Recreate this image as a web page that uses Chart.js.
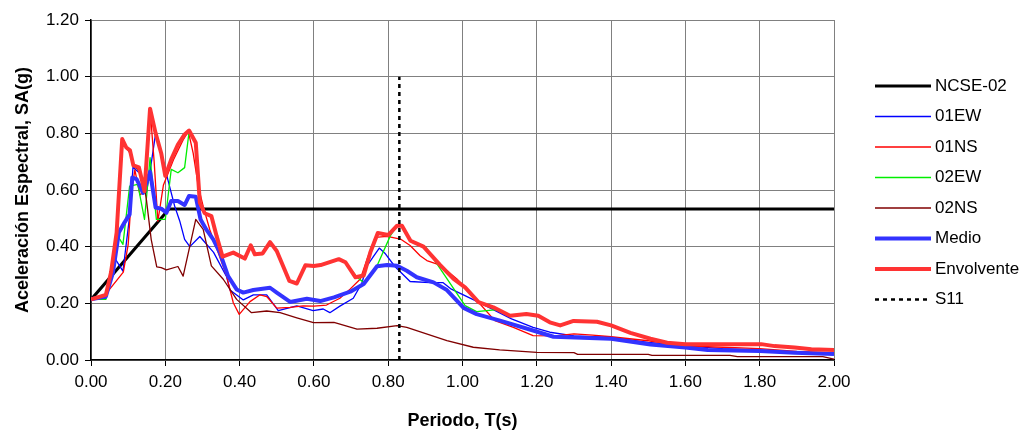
<!DOCTYPE html>
<html>
<head>
<meta charset="utf-8">
<script src="https://cdn.jsdelivr.net/npm/chart.js@4.4.0/dist/chart.umd.min.js"></script>
<style>
  html, body { margin: 0; padding: 0; background: #fff; }
  #wrap { width: 1024px; height: 431px; }
</style>
</head>
<body>
<div id="wrap"><canvas id="chart" width="1024" height="431"></canvas></div>
<script>
// Periodo T(s), Aceleracion SA(g) pairs
const ncse02 = [[0, 0.213], [0.21, 0.533], [2.0, 0.533]];

const ew01 = [[0, 0.214], [0.04, 0.217], [0.066, 0.355], [0.086, 0.314], [0.104, 0.508], [0.113, 0.68],
  [0.135, 0.655], [0.149, 0.59], [0.159, 0.667], [0.174, 0.80], [0.189, 0.73], [0.207, 0.636],
  [0.225, 0.544], [0.239, 0.49], [0.252, 0.426], [0.266, 0.40], [0.293, 0.436], [0.33, 0.38],
  [0.365, 0.294], [0.374, 0.247], [0.41, 0.212], [0.437, 0.23], [0.473, 0.23], [0.504, 0.174],
  [0.554, 0.191], [0.598, 0.174], [0.625, 0.18], [0.643, 0.167], [0.67, 0.19], [0.706, 0.218],
  [0.729, 0.271], [0.742, 0.33], [0.76, 0.365], [0.776, 0.395], [0.791, 0.377], [0.818, 0.33],
  [0.859, 0.277], [0.912, 0.273], [0.948, 0.273], [0.97, 0.25], [1.043, 0.204], [1.132, 0.145],
  [1.19, 0.115], [1.235, 0.098], [1.3, 0.085], [1.4, 0.08], [1.5, 0.062], [1.6, 0.05],
  [1.7, 0.04], [1.8, 0.035], [1.9, 0.028], [2.0, 0.022]];

const ns01 = [[0, 0.214], [0.038, 0.23], [0.087, 0.31], [0.1, 0.406], [0.11, 0.6], [0.118, 0.671],
  [0.132, 0.583], [0.145, 0.595], [0.159, 0.887], [0.17, 0.7], [0.18, 0.49], [0.195, 0.618],
  [0.222, 0.707], [0.248, 0.777], [0.262, 0.807], [0.275, 0.73], [0.289, 0.612], [0.302, 0.542],
  [0.32, 0.459], [0.343, 0.377], [0.365, 0.296], [0.383, 0.202], [0.399, 0.161], [0.428, 0.206],
  [0.455, 0.23], [0.473, 0.224], [0.5, 0.183], [0.536, 0.186], [0.571, 0.191], [0.6, 0.19],
  [0.634, 0.194], [0.67, 0.218], [0.698, 0.251], [0.725, 0.286], [0.743, 0.356], [0.765, 0.433],
  [0.797, 0.436], [0.833, 0.427], [0.859, 0.404], [0.886, 0.368], [0.904, 0.351], [0.94, 0.335],
  [0.985, 0.286], [1.043, 0.204], [1.087, 0.139], [1.137, 0.115], [1.19, 0.086], [1.25, 0.085],
  [1.3, 0.092], [1.35, 0.088], [1.4, 0.082], [1.5, 0.068], [1.6, 0.05], [1.7, 0.045],
  [1.8, 0.04], [1.9, 0.03], [2.0, 0.025]];

const ew02 = [[0, 0.214], [0.04, 0.214], [0.06, 0.33], [0.072, 0.438], [0.086, 0.408], [0.104, 0.614],
  [0.126, 0.62], [0.144, 0.496], [0.159, 0.714], [0.176, 0.496], [0.2, 0.496], [0.216, 0.673],
  [0.234, 0.661], [0.252, 0.679], [0.264, 0.805], [0.282, 0.767], [0.293, 0.555], [0.306, 0.518],
  [0.324, 0.508], [0.338, 0.438], [0.354, 0.365], [0.383, 0.379], [0.414, 0.358], [0.43, 0.405],
  [0.441, 0.373], [0.462, 0.376], [0.482, 0.416], [0.5, 0.385], [0.534, 0.279], [0.554, 0.27],
  [0.577, 0.334], [0.6, 0.332], [0.618, 0.335], [0.667, 0.356], [0.685, 0.345], [0.716, 0.292],
  [0.734, 0.274], [0.77, 0.333], [0.806, 0.439], [0.824, 0.474], [0.837, 0.474], [0.86, 0.421],
  [0.9, 0.40], [1.007, 0.192], [1.038, 0.171], [1.092, 0.178], [1.128, 0.156], [1.172, 0.162],
  [1.204, 0.156], [1.235, 0.133], [1.263, 0.122], [1.299, 0.138], [1.362, 0.135], [1.4, 0.122],
  [1.452, 0.096], [1.506, 0.075], [1.551, 0.061], [1.6, 0.056], [1.804, 0.056], [1.84, 0.049],
  [1.894, 0.044], [1.939, 0.038], [2.0, 0.035]];

const ns02 = [[0, 0.214], [0.04, 0.23], [0.054, 0.31], [0.069, 0.45], [0.084, 0.78], [0.095, 0.75],
  [0.105, 0.73], [0.113, 0.685], [0.126, 0.673], [0.14, 0.638], [0.149, 0.567], [0.162, 0.426],
  [0.177, 0.329], [0.189, 0.326], [0.203, 0.318], [0.234, 0.33], [0.248, 0.296], [0.266, 0.402],
  [0.282, 0.496], [0.302, 0.461], [0.324, 0.332], [0.356, 0.285], [0.392, 0.214], [0.432, 0.167],
  [0.473, 0.173], [0.509, 0.167], [0.554, 0.149], [0.599, 0.132], [0.654, 0.133], [0.716, 0.109],
  [0.77, 0.112], [0.824, 0.121], [0.85, 0.115], [0.958, 0.068], [1.029, 0.045], [1.1, 0.036],
  [1.2, 0.027], [1.3, 0.026], [1.31, 0.02], [1.5, 0.02], [1.51, 0.016], [1.72, 0.016],
  [1.74, 0.012], [1.97, 0.012], [2.0, 0.003]];

const medio = [[0, 0.214], [0.04, 0.224], [0.059, 0.308], [0.075, 0.45], [0.09, 0.485], [0.104, 0.514],
  [0.111, 0.644], [0.123, 0.638], [0.14, 0.59], [0.159, 0.664], [0.174, 0.538], [0.189, 0.534],
  [0.203, 0.52], [0.216, 0.561], [0.234, 0.561], [0.252, 0.547], [0.264, 0.579], [0.282, 0.576],
  [0.295, 0.496], [0.311, 0.459], [0.329, 0.426], [0.347, 0.379], [0.369, 0.296], [0.392, 0.249],
  [0.41, 0.238], [0.437, 0.247], [0.482, 0.255], [0.5, 0.238], [0.536, 0.205], [0.581, 0.216],
  [0.617, 0.208], [0.654, 0.221], [0.698, 0.241], [0.734, 0.268], [0.77, 0.331], [0.797, 0.335],
  [0.824, 0.333], [0.85, 0.315], [0.877, 0.292], [0.922, 0.274], [0.958, 0.247], [1.003, 0.184],
  [1.038, 0.162], [1.101, 0.139], [1.19, 0.104], [1.245, 0.082], [1.4, 0.075], [1.506, 0.055],
  [1.6, 0.044], [1.66, 0.035], [1.8, 0.032], [1.894, 0.026], [2.0, 0.021]];

const envolvente = [[0, 0.214], [0.04, 0.23], [0.054, 0.31], [0.069, 0.45], [0.084, 0.78], [0.095, 0.75],
  [0.105, 0.74], [0.114, 0.687], [0.129, 0.68], [0.144, 0.596], [0.159, 0.887], [0.174, 0.80],
  [0.189, 0.73], [0.2, 0.65], [0.216, 0.708], [0.234, 0.76], [0.252, 0.796], [0.264, 0.81],
  [0.282, 0.767], [0.293, 0.555], [0.306, 0.518], [0.324, 0.508], [0.338, 0.438], [0.354, 0.365],
  [0.383, 0.379], [0.414, 0.358], [0.43, 0.405], [0.441, 0.373], [0.462, 0.376], [0.482, 0.416],
  [0.5, 0.385], [0.534, 0.279], [0.554, 0.27], [0.577, 0.334], [0.6, 0.332], [0.618, 0.335],
  [0.667, 0.356], [0.685, 0.345], [0.712, 0.292], [0.734, 0.298], [0.752, 0.38], [0.772, 0.448],
  [0.8, 0.441], [0.824, 0.474], [0.837, 0.474], [0.86, 0.421], [0.895, 0.40], [0.94, 0.335],
  [0.976, 0.286], [1.007, 0.256], [1.043, 0.204], [1.083, 0.186], [1.128, 0.156], [1.172, 0.162],
  [1.204, 0.156], [1.235, 0.133], [1.263, 0.122], [1.299, 0.138], [1.362, 0.135], [1.4, 0.122],
  [1.452, 0.096], [1.506, 0.075], [1.551, 0.061], [1.6, 0.056], [1.804, 0.056], [1.84, 0.049],
  [1.894, 0.044], [1.939, 0.038], [2.0, 0.035]];

const s11 = [[0.83, 0], [0.83, 1.0]];

const xTicks = [0, 0.2, 0.4, 0.6, 0.8, 1.0, 1.2, 1.4, 1.6, 1.8, 2.0];
const yTicks = [0, 0.2, 0.4, 0.6, 0.8, 1.0, 1.2];

const FONT = "'Liberation Sans', Arial, sans-serif";

function toPoints(pairs) {
    return pairs.map(p => ({ x: p[0], y: p[1] }));
}

// series in the same order as the legend (later ones drawn on top)
const series = [
    { label: 'NCSE-02', data: ncse02, color: '#000000', width: 3 },
    { label: '01EW', data: ew01, color: '#0000ff', width: 1.3 },
    { label: '01NS', data: ns01, color: '#ff0000', width: 1.3 },
    { label: '02EW', data: ew02, color: '#00ee00', width: 1.3 },
    { label: '02NS', data: ns02, color: '#800000', width: 1.3 },
    { label: 'Medio', data: medio, color: '#3333ff', width: 4 },
    { label: 'Envolvente', data: envolvente, color: '#ff3333', width: 4 },
    { label: 'S11', data: s11, color: '#000000', width: 2.5, dash: [4, 4] }
];

// legend drawn on the right side like the original
const sideLegend = {
    id: 'sideLegend',
    afterDraw(chart) {
        const ctx = chart.ctx;
        ctx.save();
        series.forEach((s, i) => {
            const y = 86 + i * 30.5;
            ctx.beginPath();
            ctx.strokeStyle = s.color;
            ctx.lineWidth = s.width;
            ctx.setLineDash(s.dash || []);
            ctx.moveTo(875, y);
            ctx.lineTo(931, y);
            ctx.stroke();
            ctx.setLineDash([]);
            ctx.fillStyle = '#000';
            ctx.font = '17px ' + FONT;
            ctx.textBaseline = 'middle';
            ctx.textAlign = 'left';
            ctx.fillText(s.label, 935, y);
        });
        ctx.restore();
    }
};

new Chart(document.getElementById('chart'), {
    type: 'line',
    data: {
        datasets: series.map((s, i) => ({
            label: s.label,
            data: toPoints(s.data),
            borderColor: s.color,
            borderWidth: s.width,
            borderDash: s.dash || [],
            borderJoinStyle: 'round',
            pointRadius: 0,
            tension: 0,
            fill: false,
            order: series.length - i
        }))
    },
    options: {
        responsive: false,
        animation: false,
        layout: { padding: { left: 0, right: 190, top: 20, bottom: 0 } },
        plugins: {
            legend: { display: false },
            tooltip: { enabled: false }
        },
        scales: {
            x: {
                type: 'linear',
                min: 0,
                max: 2,
                afterBuildTicks: scale => { scale.ticks = xTicks.map(v => ({ value: v })); },
                afterFit: scale => { scale.height = 71; },
                ticks: {
                    font: { family: FONT, size: 17 },
                    color: '#000',
                    padding: 6,
                    maxRotation: 0,
                    callback: v => Number(v).toFixed(2)
                },
                grid: { color: '#808080', lineWidth: 1, tickLength: 6, tickColor: '#000' },
                border: { color: '#000', width: 1.5 },
                title: {
                    display: true,
                    text: 'Periodo, T(s)',
                    font: { family: FONT, size: 18, weight: 'bold', lineHeight: 1 },
                    color: '#000',
                    padding: { top: 0, bottom: 1 }
                }
            },
            y: {
                type: 'linear',
                min: 0,
                max: 1.2,
                afterBuildTicks: scale => { scale.ticks = yTicks.map(v => ({ value: v })); },
                afterFit: scale => { scale.width = 91; },
                ticks: {
                    font: { family: FONT, size: 17 },
                    color: '#000',
                    padding: 6,
                    callback: v => Number(v).toFixed(2)
                },
                grid: { color: '#808080', lineWidth: 1, tickLength: 6, tickColor: '#000' },
                border: { color: '#000', width: 1.5 },
                title: {
                    display: true,
                    text: 'Aceleración Espectral, SA(g)',
                    font: { family: FONT, size: 18, weight: 'bold' },
                    color: '#000',
                    padding: { top: 12, bottom: 0 }
                }
            }
        }
    },
    plugins: [sideLegend]
});
</script>
</body>
</html>
